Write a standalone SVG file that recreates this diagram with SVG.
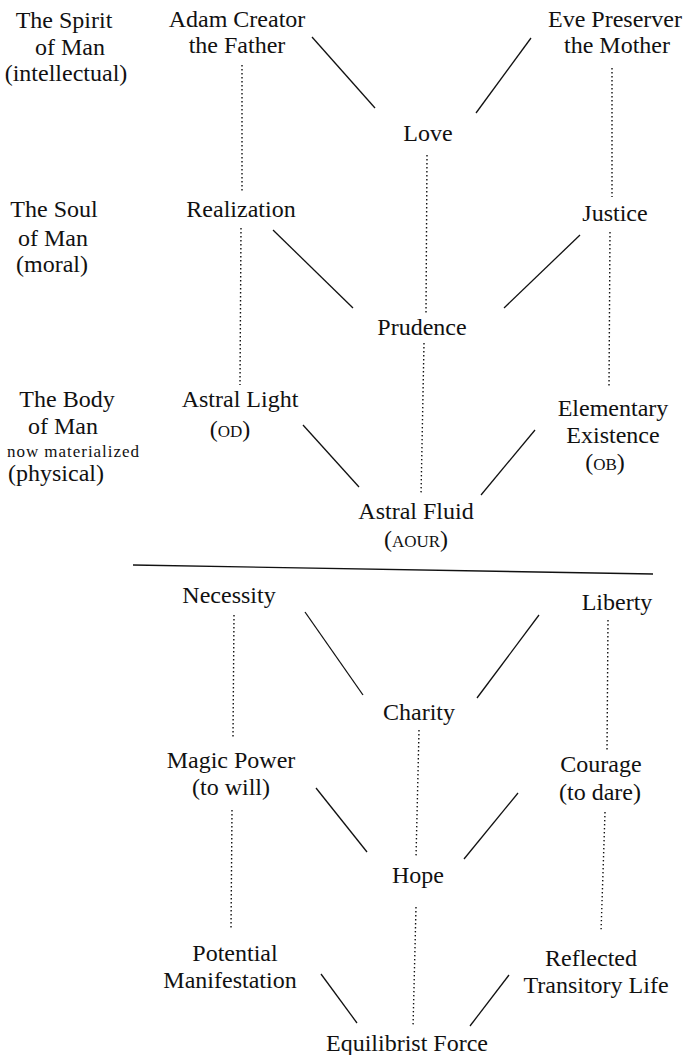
<svg xmlns="http://www.w3.org/2000/svg" width="686" height="1055" viewBox="0 0 686 1055">
<style>
text{font-family:"Liberation Serif","Times New Roman",serif;font-size:24px;fill:#111;text-anchor:middle}
.sm{font-size:17px}
.sc{font-size:17px}
.solid{stroke:#111;stroke-width:1.3;fill:none}
.dot{stroke:#111;stroke-width:1.4;stroke-dasharray:1.4 2.6;fill:none}
</style>
<rect width="686" height="1055" fill="#fff"/>
<g id="connectors">
<line class="solid" x1="312" y1="37" x2="375" y2="108"/>
<line class="solid" x1="531" y1="38" x2="476" y2="113"/>
<line class="dot" x1="242" y1="65" x2="242" y2="193"/>
<line class="dot" x1="612" y1="68" x2="612" y2="197"/>
<line class="dot" x1="427" y1="155" x2="426" y2="313"/>
<line class="solid" x1="273" y1="230" x2="353" y2="308"/>
<line class="solid" x1="580" y1="235" x2="504" y2="308"/>
<line class="dot" x1="241" y1="228" x2="240" y2="385"/>
<line class="dot" x1="610" y1="232" x2="609" y2="388"/>
<line class="dot" x1="424" y1="343" x2="421" y2="495"/>
<line class="solid" x1="303" y1="425" x2="359" y2="487"/>
<line class="solid" x1="535" y1="430" x2="481" y2="495"/>
<line class="solid" x1="133" y1="565" x2="653" y2="574" stroke-width="1.8"/>
<line class="solid" x1="305" y1="612" x2="363" y2="695"/>
<line class="solid" x1="539" y1="615" x2="477" y2="698"/>
<line class="dot" x1="234" y1="615" x2="233" y2="737"/>
<line class="dot" x1="608" y1="620" x2="607" y2="752"/>
<line class="dot" x1="419" y1="730" x2="416" y2="857"/>
<line class="solid" x1="316" y1="788" x2="367" y2="852"/>
<line class="solid" x1="518" y1="793" x2="464" y2="859"/>
<line class="dot" x1="232" y1="810" x2="231" y2="930"/>
<line class="dot" x1="605" y1="812" x2="601" y2="932"/>
<line class="dot" x1="416" y1="907" x2="413" y2="1027"/>
<line class="solid" x1="321" y1="974" x2="357" y2="1023"/>
<line class="solid" x1="509" y1="975" x2="470" y2="1026"/>
</g>
<g id="spirit-label"><text x="64" y="28">The Spirit</text><text x="70" y="55">of Man</text><text x="66" y="81">(intellectual)</text></g>
<g id="adam"><text x="237" y="27">Adam Creator</text><text x="237" y="53">the Father</text></g>
<g id="eve"><text x="615" y="27">Eve Preserver</text><text x="617" y="53">the Mother</text></g>
<g id="love"><text x="428" y="141">Love</text></g>
<g id="soul-label"><text x="54" y="217">The Soul</text><text x="53" y="246">of Man</text><text x="52" y="272">(moral)</text></g>
<g id="realization"><text x="241" y="217">Realization</text></g>
<g id="justice"><text x="615" y="221">Justice</text></g>
<g id="prudence"><text x="422" y="335">Prudence</text></g>
<g id="body-label"><text x="67" y="407">The Body</text><text x="63" y="434">of Man</text><text class="sm" x="73" y="457" textLength="132" lengthAdjust="spacing">now materialized</text><text x="56" y="481">(physical)</text></g>
<g id="astral-light"><text x="240" y="407">Astral Light</text><text x="230" y="437">(<tspan class="sc">OD</tspan>)</text></g>
<g id="elementary"><text x="613" y="416">Elementary</text><text x="613" y="443">Existence</text><text x="605" y="470">(<tspan class="sc">OB</tspan>)</text></g>
<g id="astral-fluid"><text x="416" y="519">Astral Fluid</text><text x="416" y="547">(<tspan class="sc">AOUR</tspan>)</text></g>
<g id="necessity"><text x="229" y="603">Necessity</text></g>
<g id="liberty"><text x="617" y="610">Liberty</text></g>
<g id="charity"><text x="419" y="720">Charity</text></g>
<g id="magic-power"><text x="231" y="768">Magic Power</text><text x="231" y="795">(to will)</text></g>
<g id="courage"><text x="601" y="772">Courage</text><text x="600" y="800">(to dare)</text></g>
<g id="hope"><text x="418" y="883">Hope</text></g>
<g id="potential"><text x="235" y="961">Potential</text><text x="230" y="988">Manifestation</text></g>
<g id="reflected"><text x="591" y="966">Reflected</text><text x="596" y="993">Transitory Life</text></g>
<g id="equilibrist"><text x="407" y="1051">Equilibrist Force</text></g>
</svg>
